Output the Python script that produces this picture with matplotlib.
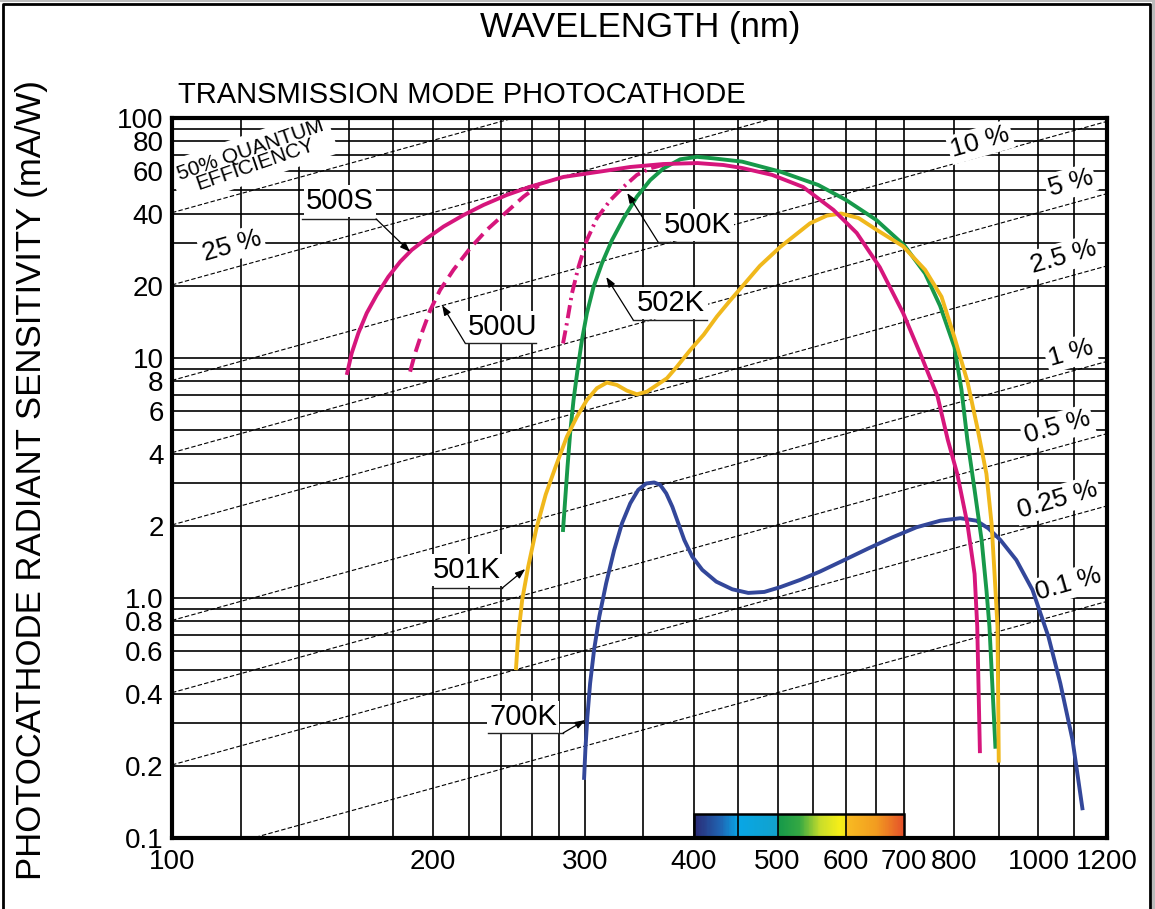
import numpy as np
import matplotlib
matplotlib.use('Agg')
import matplotlib.pyplot as plt
from matplotlib.colors import LinearSegmentedColormap
from matplotlib.patches import Rectangle
from matplotlib.lines import Line2D

plt.rcParams['font.family'] = ['Liberation Sans', 'DejaVu Sans']

# spectral response curves: wavelength (nm), sensitivity (mA/W)
wl_500s = [159.3, 161.2, 164.1, 167.8, 172.3, 177.7, 183.4, 189.1, 196.8, 205.8, 217, 228.8,
           243.5, 259, 283, 310, 338, 369, 404, 433, 455, 493, 535, 580, 617, 656, 698,
           734, 765, 786, 806, 828, 844, 850, 856]
s_500s = [8.66, 10.46, 12.7, 15.4, 18.3, 21.8, 25.2, 28.2, 31.5, 35.3, 39.4, 43.4,
          47.8, 51.7, 56.8, 59.6, 62.5, 64.3, 64.9, 63.7, 61.9, 57.9, 51.6, 41.4, 33.2, 23.9, 15.4,
          10.0, 6.9, 4.56, 3.29, 2.04, 1.26, 0.76, 0.23]

wl_500u = [188.3, 190.8, 194.2, 198.6, 203.9, 211.3, 220.9, 230.9, 243.5, 254.5, 265]
s_500u = [8.77, 10.46, 12.69, 15.8, 19.2, 23.3, 28.7, 34.2, 40.7, 47.0, 52.3]

wl_500k = [282.7, 285.6, 289.5, 294.6, 301.2, 309.3, 320.6, 332.1, 344, 356.4, 369.3]
s_500k = [11.5, 13.96, 18.6, 24.0, 31.0, 38.2, 45.5, 51.7, 57.9, 61.7, 63.9]

wl_502k = [282.7, 284.3, 286.1, 288.1, 290.7, 293.8, 297.3, 301.2, 306.6, 313.5, 322, 332.1,
           344, 356.4, 369.3, 386.1, 403.6, 421.5, 455, 504, 557, 600, 650, 700, 740, 770,
           800, 815, 828, 844, 860, 871, 878, 892]
s_502k = [1.92, 2.56, 3.53, 4.86, 6.68, 8.91, 11.9, 15.36, 19.8, 24.8, 31.0, 38.2,
          47.0, 55.1, 61.7, 67.3, 68.9, 67.9, 65.8, 59.7, 52.6, 45.5, 37.6, 29.5, 22.5, 16.5,
          11.1, 7.4, 4.56, 2.82, 1.74, 1.08, 0.76, 0.24]

wl_501k = [249.5, 250.9, 253.6, 257.7, 263.4, 270, 277, 285.6, 293.3, 301.2, 309.3, 317.7,
           326.2, 335, 344, 353.3, 362.8, 372.6, 382.6, 396.5, 410.8, 425.6, 441, 477, 504,
           545, 570, 592, 620, 649, 698, 740, 773, 800, 828, 850, 871, 883, 890, 897, 900]
s_501k = [0.51, 0.69, 0.98, 1.35, 1.95, 2.7, 3.5, 4.70, 5.69, 6.68, 7.48, 7.90,
          7.72, 7.31, 7.06, 7.24, 7.72, 8.23, 9.20, 10.8, 12.5, 14.9, 17.4, 24.2, 29.1,
          36.4, 39.2, 40.0, 38.3, 34.4, 29.2, 23.3, 18.0, 12.2, 8.0, 5.15, 3.29, 2.04, 1.26, 0.76, 0.21]

wl_700k = [299, 300, 301.6, 303.8, 307, 311.3, 317, 323.8, 330.7, 338, 345.2, 352.6, 360.2,
           366, 371.9, 378, 384, 390.2, 398.6, 409.3, 424.8, 443.3, 462.5, 482.7, 503.6, 531,
           560, 597, 636.6, 678.6, 723, 770.6, 812.6, 848, 875.6, 903.9, 943, 984.5, 1027,
           1060, 1095, 1124]
s_700k = [0.178, 0.233, 0.32, 0.441, 0.607, 0.836, 1.15, 1.58, 2.05, 2.48, 2.82, 3.0, 3.03,
          2.96, 2.73, 2.40, 2.05, 1.745, 1.486, 1.31, 1.17, 1.087, 1.05, 1.06, 1.11, 1.19,
          1.29, 1.44, 1.61, 1.79, 1.97, 2.10, 2.15, 2.10, 1.95, 1.745, 1.44, 1.08, 0.69,
          0.441, 0.256, 0.133]

# quantum efficiency reference lines (%)
qe_levels = [50, 25, 10, 5, 2.5, 1, 0.5, 0.25, 0.1]

# axis ticks and grid
x_ticks = [100, 200, 300, 400, 500, 600, 700, 800, 1000, 1200]
x_tick_labels = ['100', '200', '300', '400', '500', '600', '700', '800', '1000', '1200']
y_ticks = [0.1, 0.2, 0.4, 0.6, 0.8, 1, 2, 4, 6, 8, 10, 20, 40, 60, 80, 100]
y_tick_labels = ['0.1', '0.2', '0.4', '0.6', '0.8', '1.0', '2', '4', '6', '8',
                 '10', '20', '40', '60', '80', '100']
x_grid = [120, 140, 160, 180, 200, 220, 240, 260, 280, 300,
          350, 400, 450, 500, 550, 600, 650, 700, 800, 900, 1000, 1100]
y_grid = [0.2, 0.3, 0.4, 0.5, 0.6, 0.7, 0.8, 0.9,
          1, 2, 3, 4, 5, 6, 7, 8, 9,
          10, 20, 30, 40, 50, 60, 70, 80, 90]

# visible spectrum strip
spec_wl = [400, 430, 450, 499, 500, 530, 560, 590, 599, 600, 650, 700]
spec_colors = ['#2b2a74', '#1f66b4', '#08a6e6', '#12a2cc', '#14984a', '#35a843',
               '#c9dd2a', '#f6ee18', '#f4e41a', '#f8bc22', '#f29c20', '#e4502a']
spec_dividers = [450, 500, 600]

MAGENTA = '#d6167c'
GREEN = '#17994a'
YELLOW = '#f0b81c'
BLUE = '#33479a'
LW = 2.8

fig = plt.figure(figsize=(11.55, 9.09), dpi=100)
ax = fig.add_axes([172 / 1155, 1 - 838 / 909, 935 / 1155, 720 / 909])
ax.set_xscale('log')
ax.set_yscale('log')
ax.set_xlim(100, 1200)
ax.set_ylim(0.1, 100)

# grid
for g in x_grid:
    ax.axvline(g, color='black', lw=1.2, zorder=1)
for g in y_grid:
    ax.axhline(g, color='black', lw=1.2, zorder=1)

# quantum efficiency lines
wl_line = np.array([100, 1200])
for q in qe_levels:
    ax.plot(wl_line, q / 100 * wl_line / 1.23984, color='black', lw=0.8,
            ls=(0, (4, 2)), zorder=2)

# spectrum strip
SPEC_BOTTOM, SPEC_TOP = 0.1, 0.126
pos = [(w - spec_wl[0]) / (spec_wl[-1] - spec_wl[0]) for w in spec_wl]
cmap = LinearSegmentedColormap.from_list('spec', list(zip(pos, spec_colors)))
edges = np.linspace(spec_wl[0], spec_wl[-1], 301)
centers = (edges[:-1] + edges[1:]) / 2
ax.pcolormesh(edges, [SPEC_BOTTOM, SPEC_TOP], centers[None, :], cmap=cmap,
              vmin=spec_wl[0], vmax=spec_wl[-1], shading='flat', zorder=3)
ax.vlines(spec_dividers, SPEC_BOTTOM, SPEC_TOP, color='black', lw=1.2, zorder=3.5)
ax.add_patch(Rectangle((spec_wl[0], SPEC_BOTTOM), spec_wl[-1] - spec_wl[0],
                       SPEC_TOP - SPEC_BOTTOM, fill=False, ec='black', lw=1.8, zorder=3.6))

# quantum efficiency labels (under the curves, over the grid)
qe_labels = [
    ('25 %', 117.3, 29.3),
    ('10 %', 857, 79.4),
    ('5 %', 1089, 53.6),
    ('2.5 %', 1069, 26.4),
    ('1 %', 1089, 10.5),
    ('0.5 %', 1052, 5.16),
    ('0.25 %', 1052, 2.56),
    ('0.1 %', 1082, 1.14),
]
for txt, x, y in qe_labels:
    ax.text(x, y, txt, fontsize=19, rotation=16, ha='center', va='center', zorder=3.8,
            rotation_mode='anchor',
            bbox=dict(boxstyle='square,pad=0.1', fc='white', ec='none'))
ax.text(124, 68.5, '50% QUANTUM\nEFFICIENCY', fontsize=15, rotation=19,
        ha='center', va='center', linespacing=0.8, zorder=3.8, rotation_mode='anchor',
        clip_on=True,
        bbox=dict(boxstyle='square,pad=0.3', fc='white', ec='none'))

# curves
curve_kw = dict(lw=LW, solid_joinstyle='round', dash_joinstyle='round')
ax.plot(wl_700k, s_700k, color=BLUE, zorder=4, **curve_kw)
ax.plot(wl_502k, s_502k, color=GREEN, zorder=4.1, **curve_kw)
ax.plot(wl_501k, s_501k, color=YELLOW, zorder=4.2, **curve_kw)
ax.plot(wl_500s, s_500s, color=MAGENTA, zorder=4.3, **curve_kw)
ax.plot(wl_500u, s_500u, color=MAGENTA, ls=(0, (3.5, 1.8)), zorder=4.3, **curve_kw)
ax.plot(wl_500k, s_500k, color=MAGENTA, ls=(0, (3.4, 1.3, 0.6, 1.3)), zorder=4.3, **curve_kw)

# curve labels: (text, text centre, underline y, underline x range, leader start, arrow tip)
tube_labels = [
    ('500S', (156.3, 45.1), 37.98, (141.3, 172.0), 172.0, (188.3, 27.7)),
    ('500U', (240.5, 13.47), 11.55, (217.9, 263.2), 217.9, (205.0, 16.6)),
    ('500K', (403.9, 35.8), 30.4, (364.0, 446.8), 364.0, (335.3, 48.7)),
    ('502K', (376.9, 16.96), 14.4, (340.7, 414.8), 340.7, (317.1, 21.76)),
    ('501K', (219.1, 1.308), 1.10, (199.6, 240.5), 240.5, (255.7, 1.32)),
    ('700K', (254.3, 0.319), 0.274, (231.7, 282.8), 282.8, (299.9, 0.31)),
]
for name, (tx, ty), uy, (ux0, ux1), lx, tip in tube_labels:
    ax.text(tx, ty, name, fontsize=21, ha='center', va='center', zorder=6,
            bbox=dict(boxstyle='square,pad=0.08', fc='white', ec='none'))
    ax.plot([ux0, ux1], [uy, uy], color='#222222', lw=1.0, zorder=6)
    ax.annotate('', xy=tip, xytext=(lx, uy), zorder=6,
                arrowprops=dict(arrowstyle='-|>,head_length=0.6,head_width=0.22',
                                color='black', lw=0.9, shrinkA=0, shrinkB=0))

# axes, ticks
ax.set_xticks(x_ticks)
ax.set_xticklabels(x_tick_labels, fontsize=20)
ax.set_yticks(y_ticks)
ax.set_yticklabels(y_tick_labels, fontsize=20)
ax.xaxis.set_minor_locator(matplotlib.ticker.NullLocator())
ax.yaxis.set_minor_locator(matplotlib.ticker.NullLocator())
ax.tick_params(axis='both', length=0)
ax.tick_params(axis='x', pad=8)
ax.tick_params(axis='y', pad=6)
for sp in ax.spines.values():
    sp.set_linewidth(3)
    sp.set_zorder(7)

fig.text(640 / 1155, 1 - 27 / 909, 'WAVELENGTH (nm)', fontsize=25, ha='center', va='center')
fig.text(178 / 1155, 1 - 95 / 909, 'TRANSMISSION MODE PHOTOCATHODE', fontsize=21,
         ha='left', va='center')
fig.text(32 / 1155, 1 - 480 / 909, 'PHOTOCATHODE RADIANT SENSITIVITY (mA/W)', fontsize=25,
         rotation=90, ha='center', va='center')

# outer frame
fig.add_artist(Rectangle((0, 1 - 2 / 909), 1, 2 / 909, transform=fig.transFigure,
                         fc='#bbbbbb', ec='none'))
fig.add_artist(Rectangle((1 - 3 / 1155, 0), 3 / 1155, 1, transform=fig.transFigure,
                         fc='#bbbbbb', ec='none'))
fig.add_artist(Line2D([3 / 1155, 3 / 1155, 1150 / 1155, 1150 / 1155],
                      [0, 1 - 4 / 909, 1 - 4 / 909, 0], transform=fig.transFigure,
                      color='black', lw=2))

fig.savefig('out.png', dpi=100)
